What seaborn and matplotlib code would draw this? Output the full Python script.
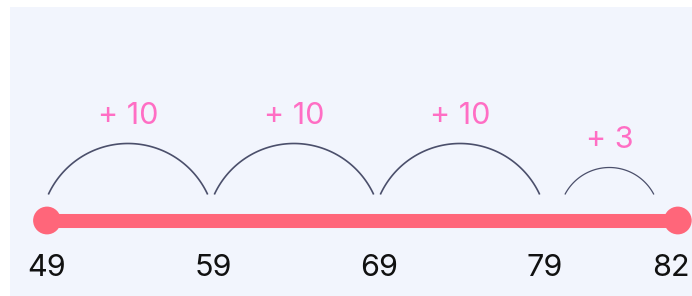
import numpy as np
import pandas as pd
import matplotlib
matplotlib.use('Agg')
import matplotlib.pyplot as plt
import seaborn as sns

# number line data
marks = [49, 59, 69, 79, 82]
jumps = [10, 10, 10, 3]
jump_labels = ['+ 10', '+ 10', '+ 10', '+ 3']
mark_labels = ['49', '59', '69', '79', '82']

# colours
bg = '#F2F5FD'
line_col = '#FF667A'
arc_col = '#4B4F6B'
jump_col = '#FF6EC4'

sns.set_theme(style='white')
plt.rcParams['font.family'] = ['Inter', 'DejaVu Sans']

# each jump gets one unit of width, small jumps a bit less
step_w = [1.0 if j >= 10 else 0.8 for j in jumps]
pos = np.concatenate([[0.0], np.cumsum(step_w)])
s0 = (pos[1] - pos[0]) / (marks[1] - marks[0])
s1 = (pos[-1] - pos[-2]) / (marks[-1] - marks[-2])


def forward(v):
    v = np.asarray(v, dtype=float)
    return np.where(v < marks[0], pos[0] + (v - marks[0]) * s0,
                    np.where(v > marks[-1], pos[-1] + (v - marks[-1]) * s1,
                             np.interp(v, marks, pos)))


def inverse(p):
    p = np.asarray(p, dtype=float)
    return np.where(p < pos[0], marks[0] + (p - pos[0]) / s0,
                    np.where(p > pos[-1], marks[-1] + (p - pos[-1]) / s1,
                             np.interp(p, pos, marks)))


UNIT = 166  # px per step
fig = plt.figure(figsize=(6.92, 2.96), dpi=100, facecolor='white')
ax = fig.add_axes([10 / 692, 0, 682 / 692, 289 / 296])
ax.set_facecolor(bg)
ax.set_xscale('function', functions=(forward, inverse))
ax.set_xlim(float(inverse(-37 / UNIT)), float(inverse(-37 / UNIT + 682 / UNIT)))
ax.set_ylim(-75.5, 213.5)
ax.axis('off')
ax.add_patch(plt.Rectangle((0, 0), 1, 1, transform=ax.transAxes, color=bg, zorder=0))

line_df = pd.DataFrame({'x': [marks[0], marks[-1]], 'y': [0, 0]})
sns.lineplot(data=line_df, x='x', y='y', color=line_col, linewidth=10.1,
             solid_capstyle='butt', ax=ax, zorder=2)
sns.scatterplot(data=line_df, x='x', y='y', color=line_col, s=400,
                edgecolor='none', ax=ax, zorder=3)

# arcs, nudged a little to the left
base = 26
for i, j in enumerate(jumps):
    a, b = pos[i], pos[i + 1]
    mid = (a + b) / 2 - 2 / UNIT
    big = j >= 10
    c = (0.96 if big else 0.67) * (b - a) * UNIT
    s = 51 if big else 27
    R = (c ** 2 / 4 + s ** 2) / (2 * s)
    phi0 = np.arcsin((c / 2) / R)
    phi = np.linspace(-phi0, phi0, 100)
    xp = mid + R * np.sin(phi) / UNIT
    yp = base + s - R + R * np.cos(phi)
    ax.plot(inverse(xp), yp, color=arc_col, lw=1.2 if big else 0.9, zorder=2,
            solid_capstyle='butt')
    ax.text(float(inverse(mid)), base + s + 20, jump_labels[i], color=jump_col,
            fontsize=22, ha='center', va='baseline')

for k, (m, lab) in enumerate(zip(marks, mark_labels)):
    dx = -5 if k == len(marks) - 1 else 0
    ax.annotate(lab, (m, -55.5), xytext=(dx, 0), textcoords='offset points',
                fontsize=22, color='#111111', ha='center', va='baseline')

fig.savefig('out.png', dpi=100, facecolor='white')
